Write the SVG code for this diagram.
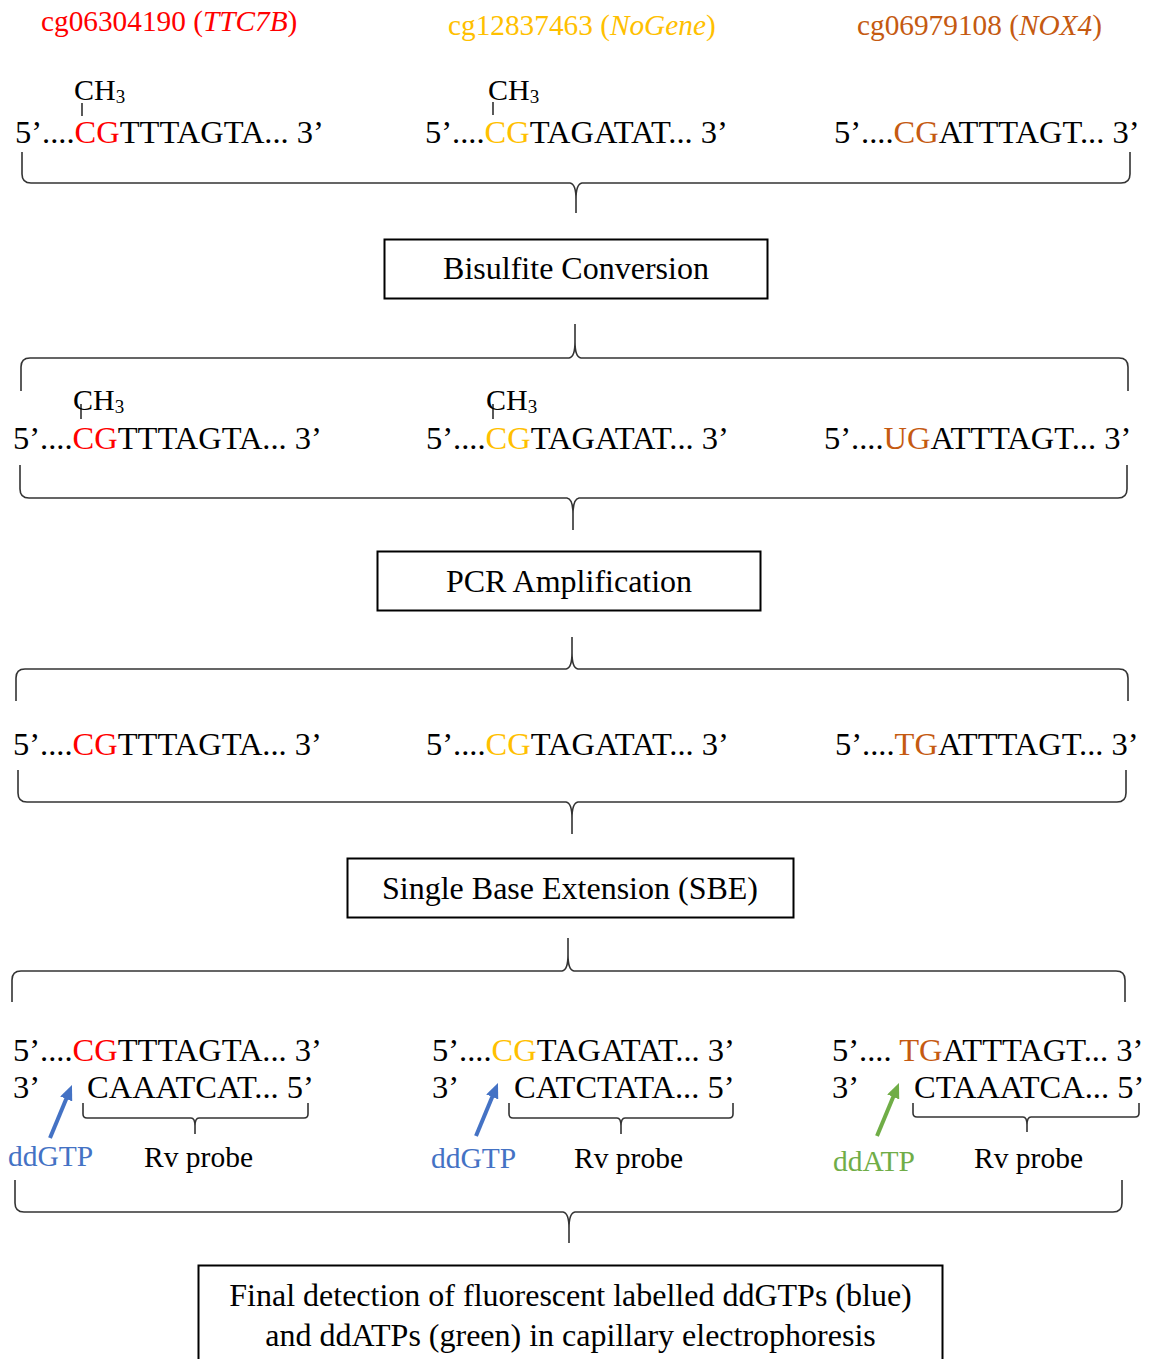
<svg xmlns="http://www.w3.org/2000/svg" width="1151" height="1359" viewBox="0 0 1151 1359">
  <style>
    text { font-family: "Liberation Serif", "Times New Roman", serif; fill: #000; }
    .seq { font-size: 32.5px; }
    .title { font-size: 29.3px; }
    .lbl { font-size: 29.5px; }
    .ch { font-size: 30px; }
    .sub { font-size: 19px; }
    .box { fill: #fff; stroke: #000; stroke-width: 2; }
    .boxt { font-size: 32px; text-anchor: middle; }
    .final { font-size: 32px; }
    .brace { fill: none; stroke: #333; stroke-width: 1.6; }
    .tick { stroke: #000; stroke-width: 1.3; }
    .r { fill: #FF0000; }
    .y { fill: #FFC000; }
    .o { fill: #C55A11; }
    .b { fill: #4472C4; }
    .g { fill: #70AD47; }
    .arrow-b { stroke: #4472C4; stroke-width: 4; fill: none; }
    .arrow-g { stroke: #70AD47; stroke-width: 4; fill: none; }
  </style>
  <defs>
    <marker id="headBlue" viewBox="0 0 15 13" refX="1" refY="6.5" markerWidth="15" markerHeight="13" markerUnits="userSpaceOnUse" orient="auto">
      <path d="M0,0 L15,6.5 L0,13 z" fill="#4472C4"/>
    </marker>
    <marker id="headGreen" viewBox="0 0 15 13" refX="1" refY="6.5" markerWidth="15" markerHeight="13" markerUnits="userSpaceOnUse" orient="auto">
      <path d="M0,0 L15,6.5 L0,13 z" fill="#70AD47"/>
    </marker>
  </defs>

  <rect x="0" y="0" width="1151" height="1359" fill="#fff"/>

  <!-- CpG site titles -->
  <g id="titles">
    <text class="title r" x="41" y="31">cg06304190 (<tspan font-style="italic">TTC7B</tspan>)</text>
    <text class="title y" x="448" y="35">cg12837463 (<tspan font-style="italic">NoGene</tspan>)</text>
    <text class="title o" x="857" y="35">cg06979108 (<tspan font-style="italic">NOX4</tspan>)</text>
  </g>

  <!-- Original sequences -->
  <g id="row-original">
    <text class="ch" x="74" y="100">CH<tspan class="sub" dy="3">3</tspan></text>
    <line class="tick" x1="82" y1="103" x2="82" y2="116"/>
    <text class="seq" x="15" y="143">5’....<tspan class="r">CG</tspan>TTTAGTA... 3’</text>
    <text class="ch" x="488" y="100">CH<tspan class="sub" dy="3">3</tspan></text>
    <line class="tick" x1="493" y1="102" x2="493" y2="115"/>
    <text class="seq" x="425" y="143">5’....<tspan class="y">CG</tspan>TAGATAT... 3’</text>
    <text class="seq" x="834" y="143">5’....<tspan class="o">CG</tspan>ATTTAGT... 3’</text>
  </g>

  <g id="step-bisulfite">
    <rect class="box" x="384.5" y="239.5" width="383" height="59"/>
    <text class="boxt" x="576" y="279">Bisulfite Conversion</text>
  </g>

  <!-- After bisulfite conversion -->
  <g id="row-bisulfite">
    <text class="ch" x="73" y="410">CH<tspan class="sub" dy="3">3</tspan></text>
    <line class="tick" x1="81" y1="404" x2="81" y2="419"/>
    <text class="seq" x="13" y="449">5’....<tspan class="r">CG</tspan>TTTAGTA... 3’</text>
    <text class="ch" x="486" y="410">CH<tspan class="sub" dy="3">3</tspan></text>
    <line class="tick" x1="493" y1="404" x2="493" y2="419"/>
    <text class="seq" x="426" y="449">5’....<tspan class="y">CG</tspan>TAGATAT... 3’</text>
    <text class="seq" x="824" y="449">5’....<tspan class="o">UG</tspan>ATTTAGT... 3’</text>
  </g>

  <g id="step-pcr">
    <rect class="box" x="377.5" y="551.5" width="383" height="59"/>
    <text class="boxt" x="569" y="592">PCR Amplification</text>
  </g>

  <!-- After PCR amplification -->
  <g id="row-pcr">
    <text class="seq" x="13" y="755">5’....<tspan class="r">CG</tspan>TTTAGTA... 3’</text>
    <text class="seq" x="426" y="755">5’....<tspan class="y">CG</tspan>TAGATAT... 3’</text>
    <text class="seq" x="835" y="755">5’....<tspan class="o">TG</tspan>ATTTAGT... 3’</text>
  </g>

  <g id="step-sbe">
    <rect class="box" x="347.5" y="858.5" width="446" height="59"/>
    <text class="boxt" x="570" y="899">Single Base Extension (SBE)</text>
  </g>

  <!-- Single base extension with reverse probes -->
  <g id="row-sbe-1">
    <text class="seq" x="13" y="1061">5’....<tspan class="r">CG</tspan>TTTAGTA... 3’</text>
    <text class="seq" x="13" y="1098">3’</text>
    <text class="seq" x="87" y="1098">CAAATCAT... 5’</text>
    <text class="lbl b" x="8" y="1166">ddGTP</text>
    <text class="lbl" x="144" y="1167">Rv probe</text>
  </g>
  <g id="row-sbe-2">
    <text class="seq" x="432" y="1061">5’....<tspan class="y">CG</tspan>TAGATAT... 3’</text>
    <text class="seq" x="432" y="1098">3’</text>
    <text class="seq" x="514" y="1098">CATCTATA... 5’</text>
    <text class="lbl b" x="431" y="1168">ddGTP</text>
    <text class="lbl" x="574" y="1168">Rv probe</text>
  </g>
  <g id="row-sbe-3">
    <text class="seq" x="832" y="1061">5’.... <tspan class="o">TG</tspan>ATTTAGT... 3’</text>
    <text class="seq" x="832" y="1098">3’</text>
    <text class="seq" x="914" y="1098">CTAAATCA... 5’</text>
    <text class="lbl g" x="833" y="1171">ddATP</text>
    <text class="lbl" x="974" y="1168">Rv probe</text>
  </g>

  <g id="step-detection">
    <rect class="box" x="198.5" y="1265.5" width="744" height="120"/>
    <text class="boxt final" x="570.5" y="1306">Final detection of fluorescent labelled ddGTPs (blue)</text>
    <text class="boxt final" x="570.5" y="1346">and ddATPs (green) in capillary electrophoresis</text>
  </g>

  <!-- Connectors: curly braces and arrows -->
  <g id="connectors">
    <path class="brace" d="M22 152 L22 174 Q22 183 31 183 L570 183 Q576 184 576 199 L576 213 M576 199 Q576 184 582 183 L1121 183 Q1130 183 1130 174 L1130 152"/>
    <path class="brace" d="M21 391 L21 367 Q21 358 30 358 L569 358 Q575 357 575 342 L575 324 M575 342 Q575 357 581 358 L1119 358 Q1128 358 1128 367 L1128 391"/>
    <path class="brace" d="M20 465 L20 489 Q20 498 29 498 L567 498 Q573 499 573 514 L573 530 M573 514 Q573 499 579 498 L1118 498 Q1127 498 1127 489 L1127 465"/>
    <path class="brace" d="M16 701 L16 678 Q16 669 25 669 L566 669 Q572 668 572 653 L572 637 M572 653 Q572 668 578 669 L1119 669 Q1128 669 1128 678 L1128 701"/>
    <path class="brace" d="M18 770 L18 793 Q18 802 27 802 L566 802 Q572 803 572 818 L572 834 M572 818 Q572 803 578 802 L1117 802 Q1126 802 1126 793 L1126 770"/>
    <path class="brace" d="M12 1002 L12 980 Q12 971 21 971 L562 971 Q568 970 568 955 L568 938 M568 955 Q568 970 574 971 L1116 971 Q1125 971 1125 980 L1125 1002"/>
    <path class="brace" d="M15 1180 L15 1203 Q15 1212 24 1212 L563 1212 Q569 1213 569 1228 L569 1243 M569 1228 Q569 1213 575 1212 L1113 1212 Q1122 1212 1122 1203 L1122 1180"/>

    <path class="brace" d="M83 1103 L83 1114 Q83 1118 87 1118 L191 1118 Q195 1118 195 1126 L195 1134 M195 1126 Q195 1118 199 1118 L304 1118 Q308 1118 308 1114 L308 1103"/>
    <path class="brace" d="M509 1103 L509 1114 Q509 1118 513 1118 L617 1118 Q621 1118 621 1126 L621 1134 M621 1126 Q621 1118 625 1118 L729 1118 Q733 1118 733 1114 L733 1103"/>
    <path class="brace" d="M913 1103 L913 1113 Q913 1117 917 1117 L1023 1117 Q1027 1117 1027 1125 L1027 1132 M1027 1125 Q1027 1117 1031 1117 L1135 1117 Q1139 1117 1139 1113 L1139 1103"/>

    <line class="arrow-b" x1="50" y1="1138" x2="66.6" y2="1098" marker-end="url(#headBlue)"/>
    <line class="arrow-b" x1="476" y1="1136" x2="492.6" y2="1096" marker-end="url(#headBlue)"/>
    <line class="arrow-g" x1="877" y1="1136" x2="893.6" y2="1096" marker-end="url(#headGreen)"/>
  </g>
</svg>
